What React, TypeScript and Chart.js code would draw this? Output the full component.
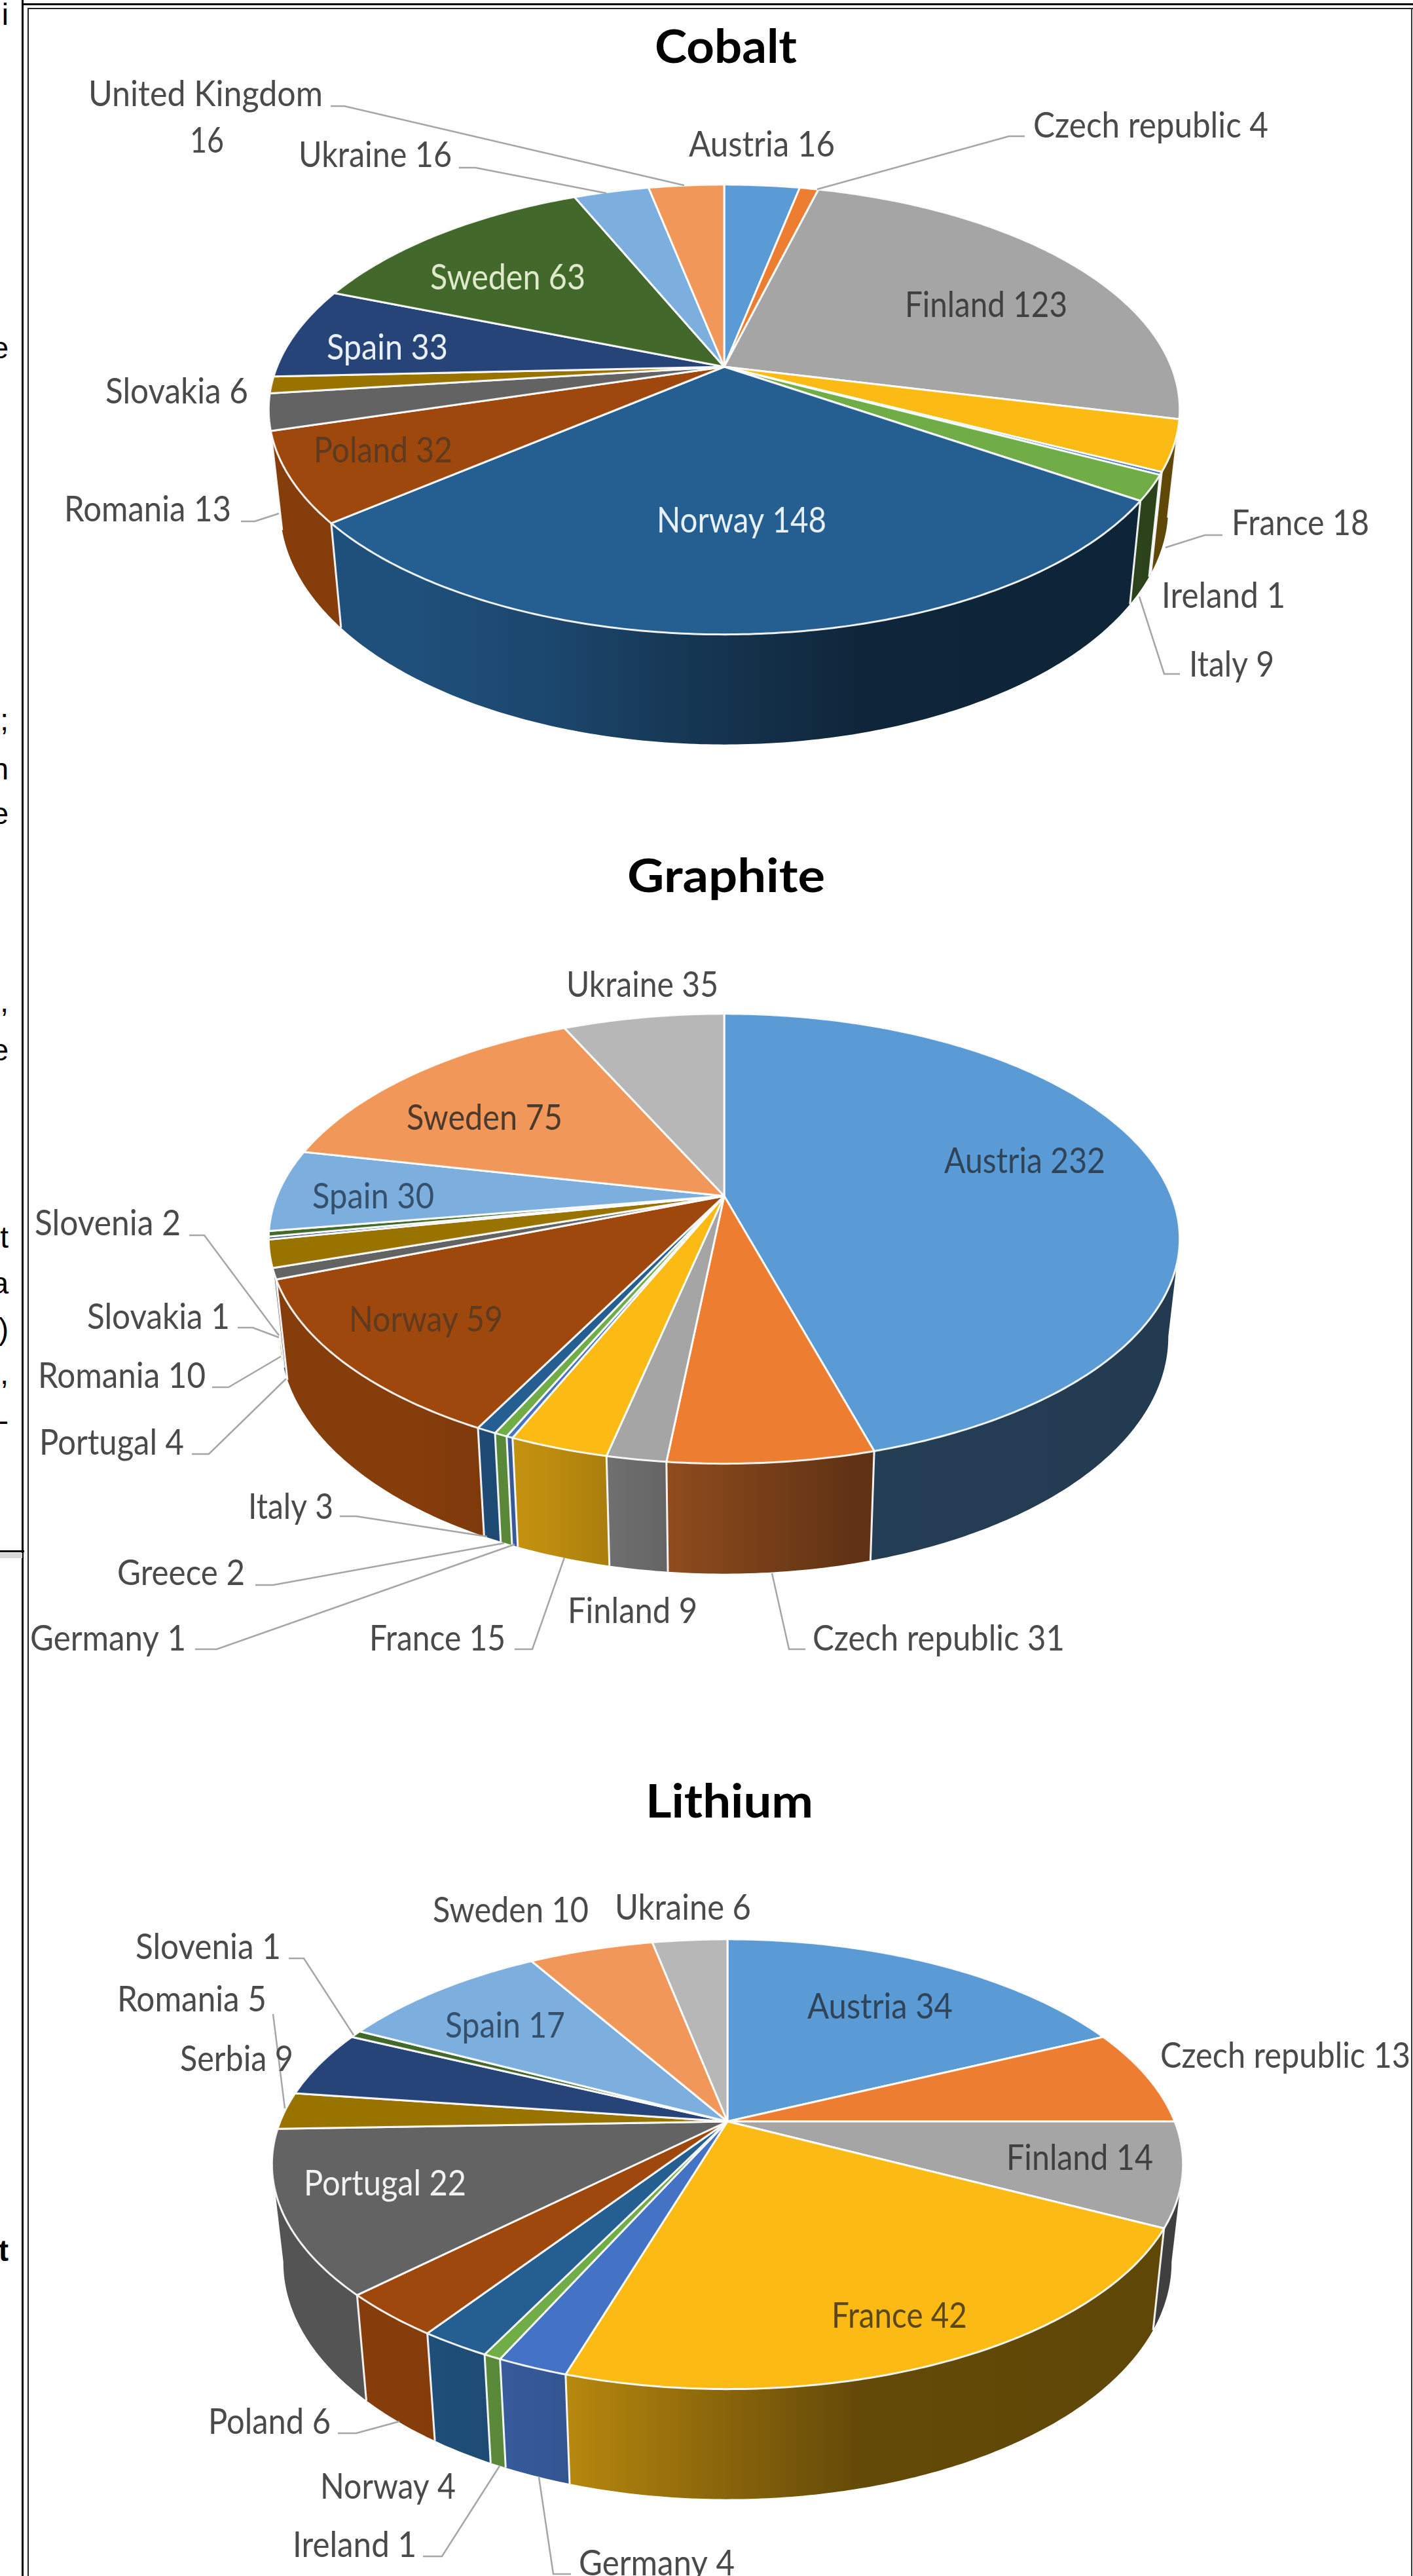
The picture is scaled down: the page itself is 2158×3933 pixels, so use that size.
import React, { useEffect, useRef } from "react";
import { Chart, registerables } from "chart.js";

Chart.register(...registerables);

// ---- data ----
const cobaltCategories = ["Austria", "Czech republic", "Finland", "France", "Ireland", "Italy", "Norway", "Poland", "Romania", "Slovakia", "Spain", "Sweden", "Ukraine", "United Kingdom"];
const cobaltValues = [16, 4, 123, 18, 1, 9, 148, 32, 13, 6, 33, 63, 16, 16];

const graphiteCategories = ["Austria", "Czech republic", "Finland", "France", "Germany", "Greece", "Italy", "Norway", "Portugal", "Romania", "Slovakia", "Slovenia", "Spain", "Sweden", "Ukraine"];
const graphiteValues = [232, 31, 9, 15, 1, 2, 3, 59, 4, 10, 1, 2, 30, 75, 35];

const lithiumCategories = ["Austria", "Czech republic", "Finland", "France", "Germany", "Ireland", "Norway", "Poland", "Portugal", "Romania", "Serbia", "Slovenia", "Spain", "Sweden", "Ukraine"];
const lithiumValues = [34, 13, 14, 42, 4, 1, 4, 6, 22, 5, 9, 1, 17, 10, 6];

// all three pies use the same theme, in order
const palette = ["#5B9BD5", "#ED7D31", "#A5A5A5", "#FBBA14", "#4472C4", "#70AD47", "#255E91", "#9E480E", "#636363", "#997300", "#264478", "#43682B", "#7CAFDD", "#F1975A", "#B7B7B7"];

// ---- layout (label boxes: x0, x1, baseline, colour) ----
const GREY = "#4a4a4a";
type Box = [number, number, number, string];

const cobaltBoxes: Box[] = [
  [1052, 1275, 239, GREY], [1578, 1937, 210, GREY], [1382, 1630, 484, "#404040"], [1881, 2091, 817, GREY],
  [1774, 1963, 928, GREY], [1816, 1946, 1033, GREY], [1003, 1262, 813, "#e8f0f8"], [479, 691, 706, "#5e3a1e"],
  [98, 353, 796, GREY], [161, 379, 616, GREY], [499, 684, 549, "#eaf0f8"], [657, 894, 442, "#dfeacb"],
  [456, 690, 255, GREY], [135, 493, 162, GREY],
];
const cobaltWrapped: Record<number, [number, number, number]> = { 13: [290, 342, 233] };
const cobaltLeaders = [
  [[505, 162], [526, 162], [1045, 283]],
  [[701, 256], [726, 256], [926, 295]],
  [[1565, 208], [1541, 208], [1248, 289]],
  [[1867, 817], [1840, 817], [1780, 836]],
  [[1802, 1029], [1778, 1029], [1740, 911]],
  [[368, 796], [389, 796], [426, 784]],
];

const graphiteBoxes: Box[] = [
  [1442, 1688, 1791, "#2f4458"], [1241, 1626, 2520, GREY], [867, 1065, 2478, GREY], [564, 772, 2520, GREY],
  [46, 284, 2520, GREY], [179, 374, 2420, GREY], [379, 509, 2319, GREY], [533, 768, 2033, "#5e3a1e"],
  [60, 281, 2221, GREY], [58, 314, 2119, GREY], [133, 351, 2029, GREY], [53, 276, 1886, GREY],
  [477, 663, 1845, "#34506c"], [621, 859, 1725, "#4d3a2a"], [865, 1097, 1522, GREY],
];
const graphiteLeaders = [
  [[289, 1886], [312, 1886], [426, 2039]],
  [[363, 2027], [386, 2027], [426, 2042]],
  [[324, 2118], [349, 2118], [429, 2071]],
  [[293, 2220], [319, 2220], [437, 2105]],
  [[519, 2315], [544, 2315], [744, 2346]],
  [[390, 2420], [417, 2420], [770, 2356]],
  [[298, 2518], [331, 2518], [786, 2358]],
  [[786, 2518], [813, 2518], [862, 2378]],
  [[1230, 2518], [1205, 2518], [1179, 2402]],
];

const lithiumBoxes: Box[] = [
  [1233, 1455, 3082, "#2f4458"], [1772, 2154, 3157, GREY], [1537, 1761, 3313, "#404040"], [1270, 1477, 3554, "#5a4818"],
  [884, 1122, 3932, GREY], [447, 636, 3904, GREY], [489, 696, 3815, GREY], [318, 505, 3716, GREY],
  [464, 712, 3352, "#f2f2f2"], [179, 407, 3071, GREY], [275, 448, 3162, GREY], [207, 429, 2991, GREY],
  [680, 863, 3111, "#34506c"], [661, 899, 2935, GREY], [939, 1147, 2931, GREY],
];
const lithiumLeaders = [
  [[441, 2990], [464, 2990], [540, 3107]],
  [[417, 3075], [435, 3219]],
  [[516, 3715], [544, 3715], [610, 3697]],
  [[646, 3903], [675, 3903], [763, 3765]],
  [[872, 3930], [845, 3930], [823, 3782]],
];

// clipped letters of the neighbouring table column: glyph, baseline, bold
const columnLetters: [string, number, boolean][] = [
  ["i", 38, false], ["e", 547, false], [";", 1115, false], ["n", 1190, false], ["e", 1258, false],
  [",", 1545, false], ["e", 1619, false], ["t", 1905, false], ["a", 1975, false], [")", 2045, false],
  [",", 2113, false], ["-", 2185, false], ["t", 3452, true],
];

// ---- perspective of the pie ----
const P = 0.19;       // perspective strength
const RX = 683;       // world radius in x
const RY = 331;       // world radius in y
const BOTTOM_X = 0.975;
const WALL_BASE = 145;
const WALL_FRONT = 23;
const shadeX = [-1, -0.7, -0.4, -0.25, 0, 0.3, 1];
const shadeK = [0.85, 0.85, 0.76, 0.67, 0.54, 0.4, 0.38];

const topPoint = (cx: number, cy: number, a: number) => {
  const u = Math.cos(a), v = Math.sin(a), s = 1 / (1 - P * v);
  return [cx + RX * u * s, cy + RY * v * s, v];
};
const basePoint = (cx: number, cy: number, a: number) => {
  const [x, y, v] = topPoint(cx, cy, a);
  return [cx + (x - cx) * BOTTOM_X, y + WALL_BASE + WALL_FRONT * v];
};
const dim = (hex: string, k: number) => {
  const n = parseInt(hex.slice(1), 16);
  return `rgb(${Math.round(((n >> 16) & 255) * k)},${Math.round(((n >> 8) & 255) * k)},${Math.round((n & 255) * k)})`;
};
const fitText = (ctx: any, text: string, x0: number, x1: number, y: number, font: string, color: string) => {
  ctx.save();
  ctx.font = font;
  ctx.fillStyle = color;
  ctx.textBaseline = "alphabetic";
  ctx.textAlign = "left";
  const w = ctx.measureText(text).width;
  ctx.translate(x0, y);
  ctx.scale((x1 - x0) / w, 1);
  ctx.fillText(text, 0, 0);
  ctx.restore();
};

const LABEL_FONT = '54px Lato, "Open Sans", sans-serif';
const TITLE_FONT = 'bold 70px Lato, "Open Sans", sans-serif';

const pie3d = {
  id: "pie3d",
  beforeDatasetDraw(chart: any, args: any, opts: any) {
    const { ctx } = chart;
    const { cx, cy, top } = opts;
    const arcs = args.meta.data;
    const colors = chart.data.datasets[0].backgroundColor;
    ctx.save();
    ctx.translate(0, -top);
    const vis0 = Math.asin(P), vis1 = Math.PI - vis0;
    arcs.forEach((arc: any, i: number) => {
      const a0 = Math.max(arc.startAngle, vis0), a1 = Math.min(arc.endAngle, vis1);
      if (a1 <= a0) return;
      const steps = Math.max(2, Math.ceil((a1 - a0) * 90));
      ctx.beginPath();
      for (let s = 0; s <= steps; s++) {
        const p = topPoint(cx, cy, a0 + ((a1 - a0) * s) / steps);
        s ? ctx.lineTo(p[0], p[1]) : ctx.moveTo(p[0], p[1]);
      }
      for (let s = steps; s >= 0; s--) {
        const p = basePoint(cx, cy, a0 + ((a1 - a0) * s) / steps);
        ctx.lineTo(p[0], p[1]);
      }
      ctx.closePath();
      const g = ctx.createLinearGradient(cx - RX, 0, cx + RX, 0);
      shadeX.forEach((x, k) => g.addColorStop((x + 1) / 2, dim(colors[i], shadeK[k])));
      ctx.fillStyle = g;
      ctx.fill();
    });
    ctx.strokeStyle = "rgba(255,255,255,0.92)";
    ctx.lineWidth = 3;
    arcs.forEach((arc: any) => {
      if (arc.startAngle < vis0 || arc.startAngle > vis1) return;
      const a = topPoint(cx, cy, arc.startAngle), b = basePoint(cx, cy, arc.startAngle);
      ctx.beginPath();
      ctx.moveTo(a[0], a[1]);
      ctx.lineTo(b[0], b[1]);
      ctx.stroke();
    });
    ctx.lineJoin = "round";
    arcs.forEach((arc: any, i: number) => {
      const a0 = arc.startAngle, a1 = arc.endAngle;
      const steps = Math.max(2, Math.ceil((a1 - a0) * 90));
      ctx.beginPath();
      ctx.moveTo(cx, cy);
      for (let s = 0; s <= steps; s++) {
        const p = topPoint(cx, cy, a0 + ((a1 - a0) * s) / steps);
        ctx.lineTo(p[0], p[1]);
      }
      ctx.closePath();
      ctx.fillStyle = colors[i];
      ctx.fill();
      ctx.stroke();
    });
    ctx.restore();
    return false;
  },
  afterDatasetsDraw(chart: any, _args: any, opts: any) {
    const { ctx } = chart;
    const { top, boxes, leaders, wrapped, title } = opts;
    ctx.save();
    ctx.translate(0, -top);
    ctx.strokeStyle = "#a6a6a6";
    ctx.lineWidth = 2.5;
    leaders.forEach((line: number[][]) => {
      ctx.beginPath();
      line.forEach((p, k) => (k ? ctx.lineTo(p[0], p[1]) : ctx.moveTo(p[0], p[1])));
      ctx.stroke();
    });
    const labels = chart.data.labels;
    const values = chart.data.datasets[0].data;
    boxes.forEach((b: Box, i: number) => {
      const w = wrapped && wrapped[i];
      if (w) {
        fitText(ctx, labels[i], b[0], b[1], b[2], LABEL_FONT, b[3]);
        fitText(ctx, String(values[i]), w[0], w[1], w[2], LABEL_FONT, b[3]);
      } else {
        fitText(ctx, `${labels[i]} ${values[i]}`, b[0], b[1], b[2], LABEL_FONT, b[3]);
      }
    });
    fitText(ctx, title.text, title.x0, title.x1, title.y, TITLE_FONT, "#000");
    ctx.restore();
  },
};

type PieProps = {
  labels: string[]; values: number[]; top: number; height: number; cx: number; cy: number;
  boxes: Box[]; leaders: number[][][]; wrapped?: Record<number, number[]>;
  title: { text: string; x0: number; x1: number; y: number };
};

function Pie3D({ labels, values, top, height, cx, cy, boxes, leaders, wrapped, title }: PieProps) {
  const ref = useRef<HTMLCanvasElement>(null);
  useEffect(() => {
    const chart = new Chart(ref.current as HTMLCanvasElement, {
      type: "pie",
      data: {
        labels,
        datasets: [{ data: values, backgroundColor: palette.slice(0, values.length) }],
      },
      options: {
        animation: false,
        responsive: false,
        devicePixelRatio: 1,
        plugins: {
          legend: { display: false },
          tooltip: { enabled: false },
          pie3d: { cx, cy, top, boxes, leaders, wrapped, title },
        },
      } as any,
      plugins: [pie3d as any],
    });
    return () => chart.destroy();
  }, []);
  return (
    <canvas
      ref={ref}
      width={2158}
      height={height}
      style={{ position: "absolute", left: 0, top, width: 2158, height, filter: "blur(0.6px)" }}
    />
  );
}

const rule = (left: number, top: number, width: number, height: number, background = "#000"): React.CSSProperties => ({
  position: "absolute", left, top, width, height, background,
});

export default function App() {
  return (
    <div style={{ position: "absolute", left: 0, top: 0, width: 2158, height: 3933, overflow: "hidden", background: "#fff" }}>
      <div style={rule(33, 0, 3, 3933)} />
      <div style={rule(42, 12, 2, 3921, "#222")} />
      <div style={rule(33, 5, 2125, 3)} />
      <div style={rule(42, 12, 2116, 2, "#222")} />
      <div style={rule(2155, 12, 2, 3921, "#333")} />
      <div style={rule(0, 2371, 34, 8, "#d8d8d8")} />
      <div style={rule(0, 2367, 37, 3)} />
      {columnLetters.map(([ch, base, bold], i) => (
        <div
          key={i}
          style={{
            position: "absolute", right: 2158 - 13, top: base - 39,
            font: `${bold ? "bold " : ""}46px/46px "Liberation Sans", Arial, sans-serif`, color: "#000", whiteSpace: "nowrap",
          }}
        >
          {ch}
        </div>
      ))}
      <Pie3D labels={cobaltCategories} values={cobaltValues} top={0} height={1290} cx={1106} cy={560}
        boxes={cobaltBoxes} leaders={cobaltLeaders} wrapped={cobaltWrapped}
        title={{ text: "Cobalt", x0: 1000, x1: 1217, y: 96 }} />
      <Pie3D labels={graphiteCategories} values={graphiteValues} top={1290} height={1430} cx={1106} cy={1826}
        boxes={graphiteBoxes} leaders={graphiteLeaders}
        title={{ text: "Graphite", x0: 958, x1: 1260, y: 1362 }} />
      <Pie3D labels={lithiumCategories} values={lithiumValues} top={2720} height={1213} cx={1111} cy={3239}
        boxes={lithiumBoxes} leaders={lithiumLeaders}
        title={{ text: "Lithium", x0: 986, x1: 1242, y: 2775 }} />
    </div>
  );
}
